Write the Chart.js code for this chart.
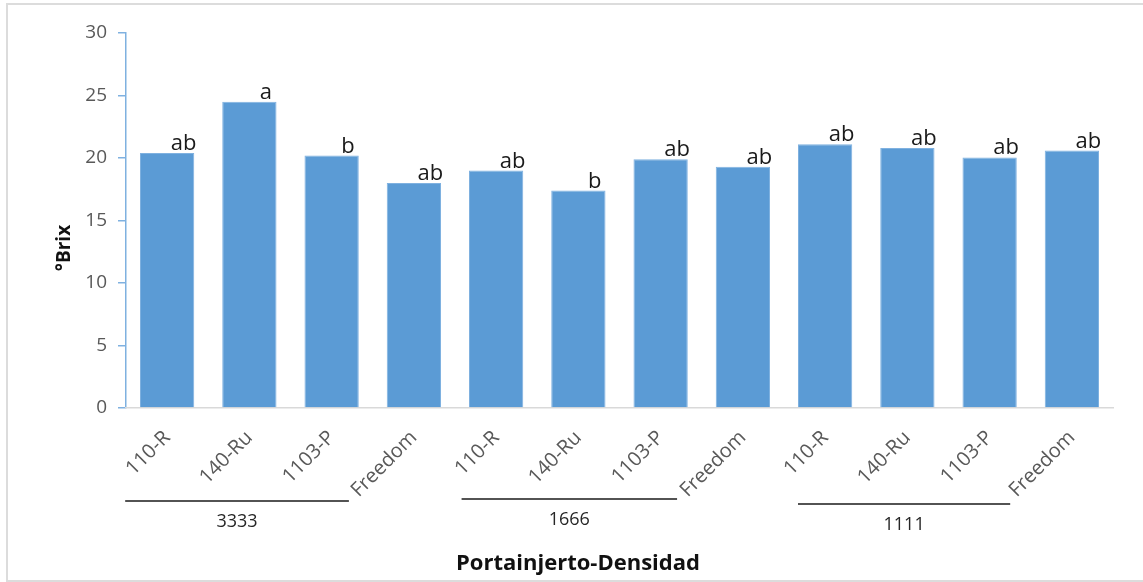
<!DOCTYPE html>
<html>
<head>
<meta charset="utf-8">
<script src="https://cdn.jsdelivr.net/npm/chart.js@4"></script>
<style>
  html, body { margin: 0; padding: 0; background: #fff; }
  #wrap { width: 1143px; height: 582px; position: relative; }
</style>
</head>
<body>
<div id="wrap"><canvas id="c" width="1143" height="582"></canvas></div>
<script>
// ---- Data ----
const categories = ['110-R', '140-Ru', '1103-P', 'Freedom',
                    '110-R', '140-Ru', '1103-P', 'Freedom',
                    '110-R', '140-Ru', '1103-P', 'Freedom'];
const brixValues = [20.4, 24.5, 20.2, 18.0, 19.0, 17.4, 19.9, 19.3, 21.1, 20.8, 20.05, 20.6];
const letters = ['ab', 'a', 'b', 'ab', 'ab', 'b', 'ab', 'ab', 'ab', 'ab', 'ab', 'ab'];
const groupLabels = ['3333', '1666', '1111'];
const groupStarts = [0, 4, 8];
const yTicks = [0, 5, 10, 15, 20, 25, 30];
const yTitle = '°Brix';
const xTitle = 'Portainjerto-Densidad';

const FONT = "'Open Sans', 'Liberation Sans', sans-serif";

const framePlugin = {
  id: 'frame',
  beforeDraw(chart) {
    const ctx = chart.ctx;
    ctx.save();
    ctx.fillStyle = '#fff';
    ctx.fillRect(0, 0, chart.width, chart.height);
    ctx.strokeStyle = '#dcdcdc';
    ctx.lineWidth = 2;
    ctx.strokeRect(7, 4, chart.width + 10, 577);
    ctx.restore();
  }
};

const annotatePlugin = {
  id: 'annotate',
  afterDatasetsDraw(chart) {
    const ctx = chart.ctx;
    const meta = chart.getDatasetMeta(0);
    const xs = chart.scales.x;
    const step = xs.getPixelForValue(1) - xs.getPixelForValue(0);
    ctx.save();
    // significance letters
    ctx.fillStyle = '#1a1a1a';
    ctx.font = "22px " + FONT;
    ctx.textAlign = 'center';
    ctx.textBaseline = 'alphabetic';
    meta.data.forEach((bar, i) => {
      ctx.fillText(letters[i], bar.x + step * 0.2, bar.y - 3);
    });
    // group lines and labels
    const startOff = [-0.51, -0.42, -0.33];
    const endOff = [0.21, 0.20, 0.25];
    const lineY = [501, 499, 504];
    const textY = [522, 520, 525];
    groupStarts.forEach((s, g) => {
      const x0 = xs.getPixelForValue(s) + step * startOff[g];
      const x1 = xs.getPixelForValue(s + 2) + step * endOff[g];
      ctx.strokeStyle = '#1a1a1a';
      ctx.lineWidth = 1.3;
      ctx.beginPath();
      ctx.moveTo(x0, lineY[g]);
      ctx.lineTo(x1, lineY[g]);
      ctx.stroke();
      ctx.fillStyle = '#262626';
      ctx.font = "18px " + FONT;
      ctx.textBaseline = 'middle';
      ctx.fillText(groupLabels[g], (x0 + x1) / 2, textY[g]);
    });
    // axis titles
    ctx.fillStyle = '#111';
    ctx.font = "bold 22px " + FONT;
    ctx.textBaseline = 'middle';
    ctx.fillText(xTitle, 578, 564);
    ctx.save();
    ctx.translate(65, 248);
    ctx.rotate(-Math.PI / 2);
    ctx.font = "bold 19px " + FONT;
    ctx.fillText(yTitle, 0, 0);
    ctx.restore();
    ctx.restore();
  }
};

new Chart(document.getElementById('c'), {
  type: 'bar',
  data: {
    labels: categories,
    datasets: [{
      data: brixValues,
      backgroundColor: '#5b9bd5',
      borderColor: '#7fb1e0',
      borderWidth: 1,
      barPercentage: 0.66,
      categoryPercentage: 1.0
    }]
  },
  options: {
    responsive: false,
    animation: false,
    layout: { padding: { left: 52, right: 30, top: 33, bottom: 6 } },
    plugins: {
      legend: { display: false },
      tooltip: { enabled: false }
    },
    scales: {
      y: {
        min: 0, max: 30,
        afterFit(s) { s.width = 74; },
        afterBuildTicks(s) { s.ticks = yTicks.map(v => ({ value: v })); },
        border: { display: true, color: '#7fb1e0', width: 1.5 },
        grid: { display: true, drawOnChartArea: false, drawTicks: true, tickLength: 8, color: '#7fb1e0', lineWidth: 1.5 },
        ticks: { color: '#595959', font: { family: FONT, size: 19 }, padding: 11 },
        title: { display: false }
      },
      x: {
        afterFit(s) { s.height = 168; },
        border: { display: true, color: '#d9d9d9', width: 1.5 },
        grid: { display: false, drawTicks: false },
        ticks: {
          color: '#595959', font: { family: FONT, size: 20 },
          minRotation: 45, maxRotation: 45, padding: 18, autoSkip: false
        },
        title: { display: false }
      }
    }
  },
  plugins: [framePlugin, annotatePlugin]
});
</script>
</body>
</html>
